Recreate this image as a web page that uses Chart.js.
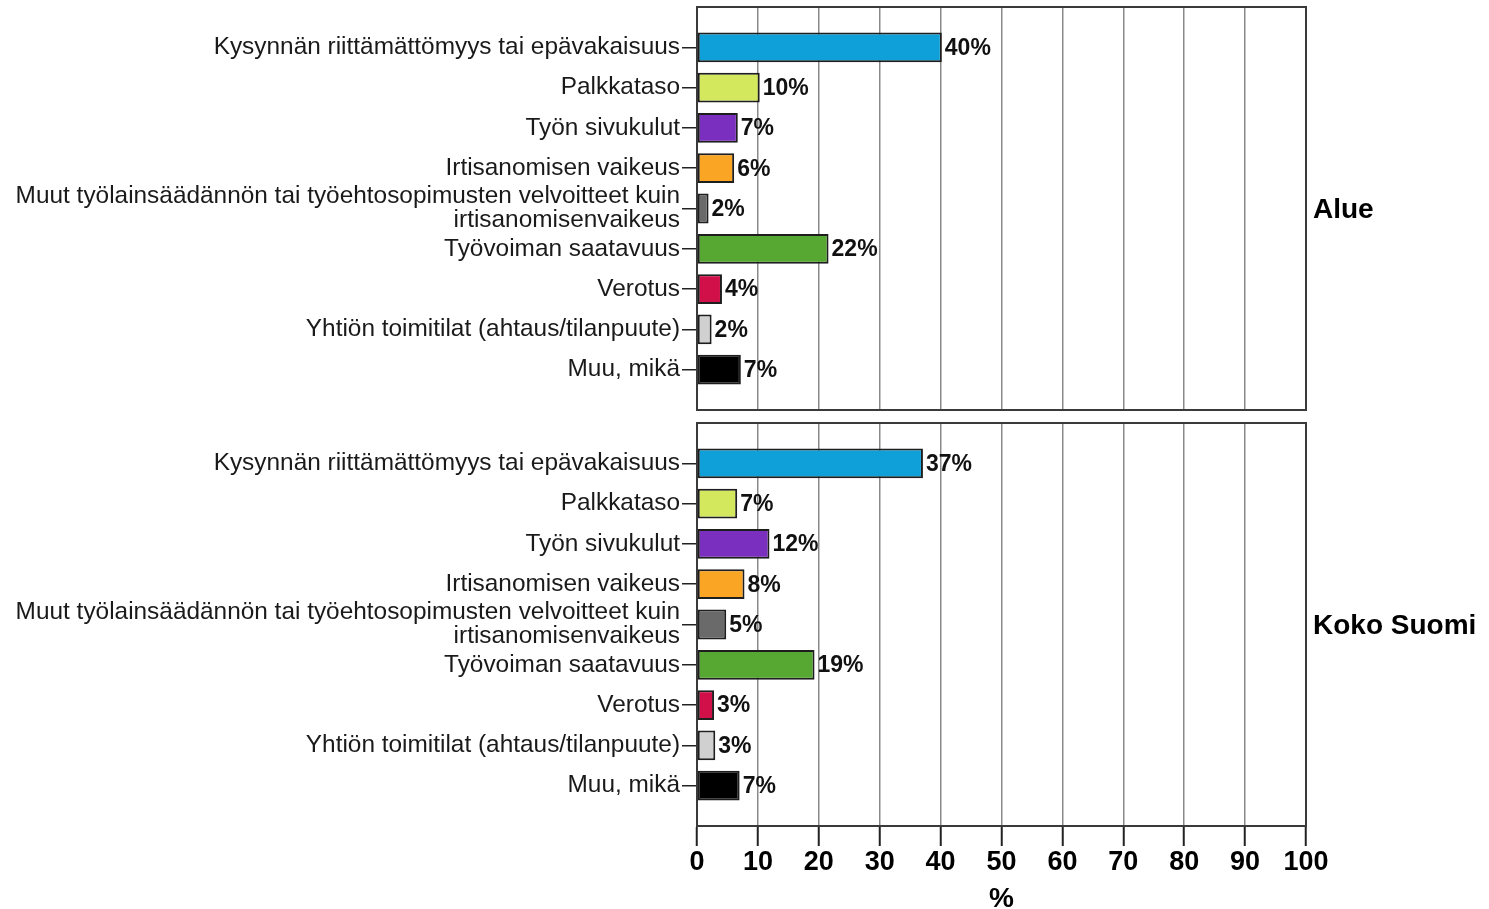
<!DOCTYPE html>
<html>
<head>
<meta charset="utf-8">
<script src="https://cdn.jsdelivr.net/npm/chart.js@4.4.1/dist/chart.umd.min.js"></script>
<style>
  html, body { margin:0; padding:0; background:#fff; }
  body { width:1489px; height:909px; position:relative; overflow:hidden; }
  canvas { position:absolute; left:0; }
</style>
</head>
<body>
<canvas id="c1" width="1489" height="420" style="top:0px"></canvas>
<canvas id="c2" width="1489" height="494" style="top:415px"></canvas>
<script>
const categories = [
  'Kysynnän riittämättömyys tai epävakaisuus',
  'Palkkataso',
  'Työn sivukulut',
  'Irtisanomisen vaikeus',
  ['Muut työlainsäädännön tai työehtosopimusten velvoitteet kuin', 'irtisanomisenvaikeus'],
  'Työvoiman saatavuus',
  'Verotus',
  'Yhtiön toimitilat (ahtaus/tilanpuute)',
  'Muu, mikä'
];
const alueValues = [40.2, 10.3, 6.7, 6.1, 1.9, 21.6, 4.1, 2.4, 7.2];
const kokoValues = [37.1, 6.6, 11.9, 7.8, 4.8, 19.3, 2.8, 3.0, 7.0];
const alueLabels = ['40%', '10%', '7%', '6%', '2%', '22%', '4%', '2%', '7%'];
const kokoLabels = ['37%', '7%', '12%', '8%', '5%', '19%', '3%', '3%', '7%'];
const barColors = ['#0fa0da', '#d3e85c', '#7b2fbf', '#fba524', '#6a6a6a', '#57a833', '#d1104a', '#d0d0d0', '#000000'];
const panelNames = ['Alue', 'Koko Suomi'];
const xTicks = [0, 10, 20, 30, 40, 50, 60, 70, 80, 90, 100];
const xTitle = '%';

const FONT = "'Liberation Sans', Arial, sans-serif";

const framePlugin = {
  id: 'frame',
  afterDraw(chart) {
    const a = chart.chartArea, ctx = chart.ctx;
    ctx.save();
    ctx.strokeStyle = '#3a3a3a';
    ctx.lineWidth = 2;
    ctx.strokeRect(a.left, a.top, a.right - a.left, a.bottom - a.top);
    ctx.restore();
  }
};

const valueLabelPlugin = {
  id: 'valueLabels',
  afterDatasetsDraw(chart, args, opts) {
    const ctx = chart.ctx;
    const meta = chart.getDatasetMeta(0);
    ctx.save();
    ctx.font = 'bold 23px ' + FONT;
    ctx.fillStyle = '#111';
    ctx.textAlign = 'left';
    ctx.textBaseline = 'middle';
    meta.data.forEach((el, i) => {
      ctx.fillText(opts.labels[i], el.x + 3, el.y + 1);
    });
    ctx.restore();
  }
};

const panelLabelPlugin = {
  id: 'panelLabel',
  afterDraw(chart, args, opts) {
    const a = chart.chartArea, ctx = chart.ctx;
    ctx.save();
    ctx.font = 'bold 28px ' + FONT;
    ctx.fillStyle = '#000';
    ctx.textAlign = 'left';
    ctx.textBaseline = 'middle';
    ctx.fillText(opts.text, a.right + 7, (a.top + a.bottom) / 2 + 2);
    ctx.restore();
  }
};

function makeChart(canvasId, values, labels, panelName, showAxis) {
  const xScale = {
    type: 'linear', min: 0, max: 100, offset: false,
    afterBuildTicks(s) { s.ticks = xTicks.map(v => ({ value: v })); },
    grid: {
      display: true, drawOnChartArea: true, drawTicks: showAxis, offset: false,
      tickLength: 20, color: '#8a8a8a', lineWidth: 1.5, tickColor: '#222', tickWidth: 2
    },
    border: { display: true, color: '#3a3a3a', width: 2 },
    ticks: {
      display: showAxis, padding: 0, color: '#000',
      font: { family: FONT, size: 27, weight: 'bold' },
      maxRotation: 0, autoSkip: false
    },
    title: {
      display: showAxis, text: xTitle, color: '#000',
      font: { family: FONT, size: 28, weight: 'bold', lineHeight: 1 },
      padding: { top: 0, bottom: -4 }
    },
    afterFit(s) { s.height = showAxis ? 83 : 0; s.paddingLeft = 0; s.paddingRight = 0; }
  };
  return new Chart(document.getElementById(canvasId), {
    type: 'bar',
    data: {
      datasets: [{
        data: values.map((v, i) => ({ x: v, y: i })),
        backgroundColor: barColors,
        borderColor: '#1e1e1e',
        borderWidth: 2,
        borderSkipped: false,
        barPercentage: 0.74,
        categoryPercentage: 1
      }]
    },
    options: {
      indexAxis: 'y',
      responsive: false,
      animation: false,
      events: [],
      layout: { padding: { left: 0, right: 183, top: showAxis ? 8 : 7, bottom: showAxis ? 0 : 10 } },
      plugins: {
        legend: { display: false },
        tooltip: { enabled: false },
        valueLabels: { labels: labels },
        panelLabel: { text: panelName }
      },
      scales: {
        x: xScale,
        y: {
          type: 'linear', reverse: true, min: -1, max: 9, offset: false,
          afterBuildTicks(s) { s.ticks = categories.map((c, i) => ({ value: i })); },
          afterFit(s) { s.width = 697; s.paddingTop = 0; s.paddingBottom = 0; },
          grid: {
            display: true, drawOnChartArea: false, drawTicks: true, offset: false,
            tickLength: 15, color: '#222', tickColor: '#222', lineWidth: 1.5
          },
          border: { display: true, color: '#3a3a3a', width: 2 },
          ticks: {
            padding: 2, color: '#1a1a1a',
            font: { family: FONT, size: 24.4, lineHeight: 0.97 },
            autoSkip: false,
            callback(v) { return categories[v]; }
          }
        }
      }
    },
    plugins: [framePlugin, valueLabelPlugin, panelLabelPlugin]
  });
}

makeChart('c1', alueValues, alueLabels, panelNames[0], false);
makeChart('c2', kokoValues, kokoLabels, panelNames[1], true);
</script>
</body>
</html>
